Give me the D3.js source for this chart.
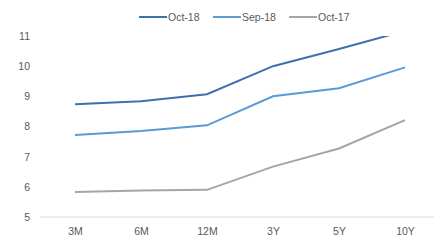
<!DOCTYPE html>
<html>
<head>
<meta charset="utf-8">
<script src="https://cdn.jsdelivr.net/npm/d3@7"></script>
<style>
body { margin: 0; background: #fff; }
text { font-family: "Liberation Sans", Arial, sans-serif; fill: #595959; }
</style>
</head>
<body>
<div id="c"></div>
<script>
var tenors = ['3M', '6M', '12M', '3Y', '5Y', '10Y'];
var oct18 = [8.74, 8.84, 9.07, 10.0, 10.57, 11.17];
var sep18 = [7.72, 7.85, 8.04, 9.0, 9.27, 9.96];
var oct17 = [5.83, 5.88, 5.9, 6.67, 7.27, 8.21];
var y_ticks = [5, 6, 7, 8, 9, 10, 11];

var series = [
	{ name: 'Oct-18', values: oct18, color: '#3f70ad' },
	{ name: 'Sep-18', values: sep18, color: '#5b9bd5' },
	{ name: 'Oct-17', values: oct17, color: '#a5a5a5' }
];

var width = 443;
var height = 240;

var svg = d3.select("#c").append('svg')
	.attr("width", width)
	.attr("height", height);

var x_scale = d3.scalePoint()
	.domain(tenors)
	.range([42, 438])
	.padding(0.5);

var y_scale = d3.scaleLinear()
	.domain([5, 11])
	.range([217, 36]);

// clip so the top line stops at 11 like the original
svg.append('clipPath')
	.attr('id', 'plot-clip')
	.append('rect')
	.attr('x', 0)
	.attr('y', y_scale(11))
	.attr('width', width)
	.attr('height', y_scale(5) - y_scale(11));

var y_axis = svg.append("g")
	.attr("transform", "translate(30,0)")
	.call(d3.axisLeft(y_scale).tickValues(y_ticks).tickFormat(d3.format('d')).tickSize(0).tickPadding(0));
y_axis.select('.domain').remove();
y_axis.selectAll('text')
	.style('font-size', '10.5px')
	.attr('fill', '#595959');

var x_axis = svg.append("g")
	.attr("transform", "translate(0," + y_scale(5) + ")")
	.call(d3.axisBottom(x_scale).tickSize(0).tickPadding(11));
x_axis.select('.domain').remove();
x_axis.selectAll('text')
	.style('font-size', '10.5px')
	.attr('fill', '#595959');

svg.append('line')
	.attr('x1', 40)
	.attr('x2', 434)
	.attr('y1', y_scale(5))
	.attr('y2', y_scale(5))
	.attr('stroke', '#d9d9d9')
	.attr('stroke-width', 1);

var line = d3.line()
	.x(function(d, i) { return x_scale(tenors[i]); })
	.y(function(d) { return y_scale(d); });

svg.append('g')
	.attr('clip-path', 'url(#plot-clip)')
	.selectAll('path')
	.data(series.slice().reverse())
	.enter()
	.append('path')
	.attr('d', function(d) { return line(d.values); })
	.attr('fill', 'none')
	.attr('stroke', function(d) { return d.color; })
	.attr('stroke-width', 2);

// legend
var legend_x = [139, 213, 289];
var lg = svg.append('g')
	.selectAll('g')
	.data(series)
	.enter()
	.append('g')
	.attr('transform', function(d, i) { return 'translate(' + legend_x[i] + ',17)'; });

lg.append('line')
	.attr('x1', 0)
	.attr('x2', 28)
	.attr('stroke', function(d) { return d.color; })
	.attr('stroke-width', 2);

lg.append('text')
	.attr('x', 29)
	.attr('dy', '0.35em')
	.style('font-size', '10.5px')
	.text(function(d) { return d.name; });
</script>
</body>
</html>
